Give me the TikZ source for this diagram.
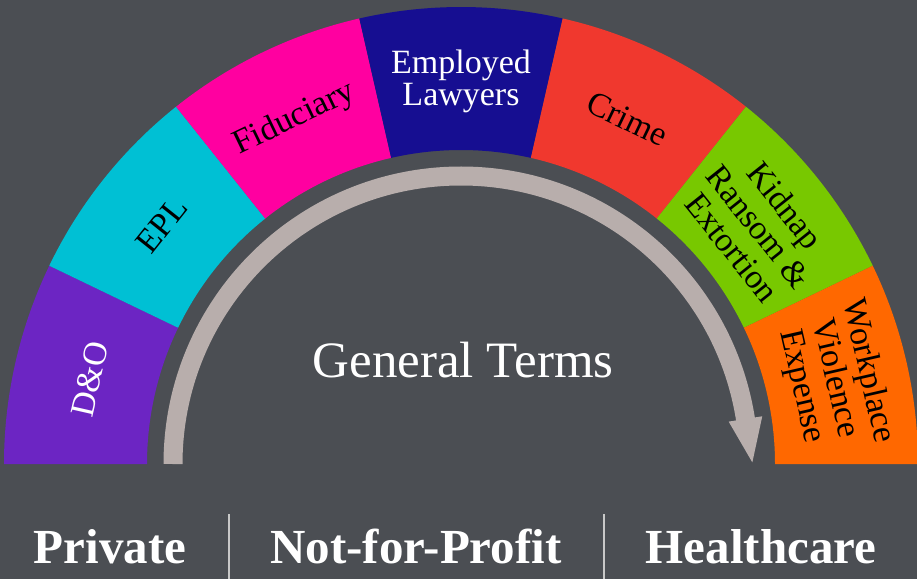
\documentclass[tikz,border=0pt]{standalone}
\usepackage{fontspec}
\setmainfont{Liberation Serif}
\usetikzlibrary{calc}
\definecolor{bg}{HTML}{4B4E53}
\definecolor{cDO}{HTML}{6C25C3}
\definecolor{cEPL}{HTML}{00C0D4}
\definecolor{cFID}{HTML}{FF00A0}
\definecolor{cEMP}{HTML}{160E91}
\definecolor{cCRI}{HTML}{F0382E}
\definecolor{cKID}{HTML}{78C800}
\definecolor{cWPV}{HTML}{FF6800}
\definecolor{arrowc}{HTML}{B8AEAC}
\definecolor{sepc}{HTML}{C8C8C8}
\tikzset{
  lbl/.style={inner sep=0pt, align=center, font=\fontsize{34}{32}\selectfont},
  lblm/.style={inner sep=0pt, align=center, font=\fontsize{34}{34}\selectfont},
  bot/.style={inner sep=0pt, anchor=base, text=white, font=\bfseries\fontsize{49}{52}\selectfont},
  gt/.style={inner sep=0pt, text=white, font=\fontsize{51}{54}\selectfont},
  sepline/.style={draw=sepc, line width=1.3pt},
}
\begin{document}
\begin{tikzpicture}[x=1pt,y=1pt]
\fill[bg] (0,0) rectangle (917,579);
\useasboundingbox (0,0) rectangle (917,579);
\coordinate (C) at (461,115);
\foreach \i/\col in {0/cDO,1/cEPL,2/cFID,3/cEMP,4/cCRI,5/cKID,6/cWPV} {
  \pgfmathsetmacro\a{180-\i*180/7}
  \pgfmathsetmacro\b{180-(\i+1)*180/7}
  \fill[\col] ($(C)+(\a:457pt)$) arc[start angle=\a, end angle=\b, radius=457pt]
    -- ($(C)+(\b:314pt)$) arc[start angle=\b, end angle=\a, radius=314pt] -- cycle;
}
% arrow
\coordinate (as) at ($(C)+(180:288pt)$);
\coordinate (ae) at ($(C)+(9:288pt)$);
\draw[arrowc, line width=19pt] (as) arc[start angle=180, end angle=8.5, radius=288pt];
\fill[arrowc] ($(ae)+(9:17pt)$) -- ($(ae)+(-81:44pt)$) -- ($(ae)+(189:17pt)$) -- cycle;
% sector labels
\node[lbl, text=white, rotate=77.14] (do) at ($(C)+(167.14:381pt)$) {D\&O};
\node[lbl, text=black, rotate=51.43] (epl) at ($(C)+(141.43:383pt)$) {EPL};
\node[lbl, text=black, rotate=25.71] (fid) at ($(C)+(115.71:383pt)$) {Fiduciary};
\node[lbl, text=white] (emp) at ($(C)+(90:383pt)$) {Employed\\Lawyers};
\node[lbl, text=black, rotate=-25.71] (cri) at ($(C)+(64.29:383pt)$) {Crime};
\node[lblm, text=black, rotate=-51.43] (kid) at ($(C)+(38.57:381pt)$) {Kidnap\\Ransom \&\\Extortion};
\node[lblm, text=black, rotate=-77.14] (wpv) at ($(C)+(12.86:383pt)$) {Workplace\\Violence\\Expense};
% center text
\node[gt] (gen) at (463,219) {General Terms};
% bottom labels
\node[bot] (priv) at (110,16) {Private};
\node[bot] (nfp) at (416,16) {Not-for-Profit};
\node[bot] (hc) at (761,16) {Healthcare};
\coordinate (s1a) at (229,0); \coordinate (s1b) at (229,65);
\coordinate (s2a) at (604,0); \coordinate (s2b) at (604,65);
\draw[sepline] (s1a) -- (s1b);
\draw[sepline] (s2a) -- (s2b);
\end{tikzpicture}
\end{document}
